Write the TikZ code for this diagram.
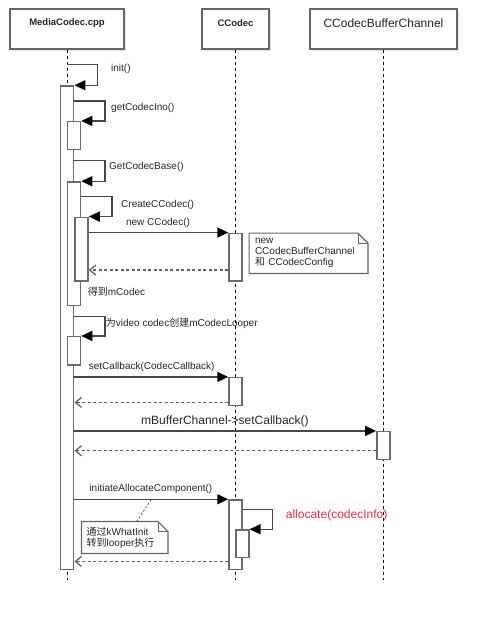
\documentclass[tikz,border=0pt]{standalone}
\usepackage{fontspec}
\setmainfont{Liberation Sans}
\newfontfamily\cjk{Noto Sans CJK SC}
\usetikzlibrary{arrows.meta,shadows,calc}
\newcommand\smtxt{\fontsize{10}{11}\selectfont}
\newcommand\bigtxt{\fontsize{12}{14}\selectfont}
\tikzset{
  hdr/.style={draw=black!60, line width=1.4pt, fill=white, rectangle, inner sep=0pt,
    drop shadow={shadow xshift=2pt,shadow yshift=-2pt,fill=black!10,opacity=1}},
  hdrtxt/.style={inner sep=0pt, text=black!85},
  bar/.style={draw=black!58, line width=1.5pt, fill=white, rectangle, minimum width=13pt, inner sep=0pt},
  life/.style={draw=black, line width=0.8pt, dash pattern=on 3pt off 3pt},
  call/.style={draw=black!72, line width=1.5pt, -{Triangle[length=11pt,width=10pt,fill=black,color=black]}},
  ret/.style={draw=black!62, line width=1.3pt, dash pattern=on 3pt off 2.5pt, -{Straight Barb[length=6pt,width=10pt]}},
  lbl/.style={text=black!85, font=\smtxt, inner sep=0pt},
  notetxt/.style={text=black!85, font=\smtxt, inner ysep=0pt, align=left},
  noteline/.style={draw=black!60, line width=1.2pt},
  notelink/.style={draw=black!70, line width=0.8pt, dash pattern=on 2pt off 2pt}
}
\begin{document}
\begin{tikzpicture}[x=1pt,y=-1pt]
\useasboundingbox (0,0) rectangle (497,624);
% headers
\node[hdr, minimum width=114pt, minimum height=40pt] (mc) at (67,29) {};
\node[hdr, minimum width=67pt, minimum height=40pt] (cc) at (235.5,29) {};
\node[hdr, minimum width=147pt, minimum height=40pt] (bc) at (383.5,29) {};
\node[hdrtxt, font=\fontsize{9.5}{11}\selectfont\bfseries] (mct) at ([yshift=-14.5pt]mc.north) {MediaCodec.cpp};
\node[hdrtxt, font=\fontsize{9.5}{11}\selectfont\bfseries] (cct) at ([yshift=-14.5pt]cc.north) {CCodec};
\node[hdrtxt, font=\bigtxt] (bct) at ([yshift=-14.5pt]bc.north) {CCodecBufferChannel};
% lifelines
\coordinate (lend) at (0,580);
\draw[life] (mc.south) -- (mc.south |- lend);
\draw[life] (cc.south) -- (cc.south |- lend);
\draw[life] (bc.south) -- (bc.south |- lend);
% activation bars
\node[bar, minimum height=483.3pt] (main) at (67.2,327.65) {};
\node[bar, minimum height=27.6pt] (b2) at (74,135.5) {};
\node[bar, minimum height=123.7pt] (b3) at (74,243.85) {};
\node[bar, minimum height=63.7pt] (b4) at (81.5,249.15) {};
\node[bar, minimum height=28.3pt] (b5) at (74,350.85) {};
\node[bar, minimum height=47.7pt] (cc1) at (235.5,257.15) {};
\node[bar, minimum height=28pt] (cc2) at (235.5,391.7) {};
\node[bar, minimum height=69.3pt] (cc3) at (235.5,534.65) {};
\node[bar, minimum height=27.3pt] (cc4) at (242.3,543.65) {};
\node[bar, minimum height=27.6pt] (bc1) at (383.3,445.5) {};
% self calls
\draw[call] (mc.south |- main.north) ++(0,-21) -- ++(30.5,0) |- (main.north east);
\draw[call] (main.east |- b2.north) ++(0,-20) -- ++(30.3,0) |- (b2.north east);
\draw[call] (main.east |- b3.north) ++(0,-21) -- ++(30.3,0) |- (b3.north east);
\draw[call] (b3.east |- b4.north) ++(0,-20) -- ++(30.5,0) |- (b4.north east);
\draw[call] (main.east |- b5.north) ++(0,-19.4) -- ++(30.3,0) |- (b5.north east);
\draw[call] (cc3.east |- cc4.north) ++(0,-20) -- ++(29.7,0) |- (cc4.north east);
% calls
\draw[call] (b4.east |- cc1.north) -- (cc1.north west);
\draw[call] (main.east |- cc2.north) -- (cc2.north west);
\draw[call] (main.east |- bc1.north) -- (bc1.north west);
\draw[call] (main.east |- cc3.north) -- (cc3.north west);
% returns
\coordinate (r1) at ([yshift=11.7pt]cc1.south west);
\coordinate (r2) at ([yshift=4pt]cc2.south west);
\coordinate (r3) at ([yshift=9.3pt]bc1.south west);
\coordinate (r4) at ([yshift=8.6pt]cc3.south west);
\draw[ret] (r1) -- (r1 -| b4.east);
\draw[ret] (r2) -- (r2 -| main.east);
\draw[ret] (r3) -- (r3 -| main.east);
\draw[ret] (r4) -- (r4 -| main.east);
% labels
\node[lbl, anchor=west] (l1) at (111,69) {init()};
\node[lbl, anchor=west] (l2) at (111,108) {getCodecIno()};
\node[lbl, anchor=west] (l3) at (109,167) {GetCodecBase()};
\node[lbl, anchor=west] (l4) at (121,205) {CreateCCodec()};
\node[lbl] (l5) at (158,222.7) {new CCodec()};
\node[lbl, anchor=west] (l6) at (87.7,291.7) {{\cjk 得到}mCodec};
\node[lbl, anchor=west] (l7) at (105.7,323.3) {{\cjk 为}video codec{\cjk 创建}mCodecLooper};
\node[lbl, anchor=west] (l8) at (88.7,366.7) {setCallback(CodecCallback)};
\node[lbl, font=\bigtxt] (l9) at (225,421) {mBufferChannel->setCallback()};
\node[lbl, anchor=west] (l10) at (89.3,489) {initiateAllocateComponent()};
\node[lbl, anchor=west, font=\fontsize{12}{14}\selectfont, text={rgb,255:red,222;green,48;blue,60}] (l11) at (285.7,515.7) {allocate(codecInfo)};
% note 1
\node[notetxt, inner xsep=5.7pt, text width=107pt, minimum height=40pt] (n1) at (308.5,253.3) {new\\CCodecBufferChannel\\{\cjk 和} CCodecConfig};
\draw[noteline] (n1.north west) -- ([xshift=-10pt]n1.north east) -- ([yshift=-10pt]n1.north east) -- (n1.south east) -- (n1.south west) -- cycle;
\draw[noteline, line width=0.8pt] ([xshift=-10pt]n1.north east) -- ([xshift=-10pt,yshift=-10pt]n1.north east) -- ([yshift=-10pt]n1.north east);
% note 2
\node[notetxt, inner xsep=5pt, text width=76pt, minimum height=31.6pt] (n2) at (124.7,537.5) {{\cjk 通过}kWhatInit\\{\cjk 转到}looper{\cjk 执行}};
\draw[noteline] (n2.north west) -- ([xshift=-10pt]n2.north east) -- ([yshift=-10pt]n2.north east) -- (n2.south east) -- (n2.south west) -- cycle;
\draw[noteline, line width=0.8pt] ([xshift=-10pt]n2.north east) -- ([xshift=-10pt,yshift=-10pt]n2.north east) -- ([yshift=-10pt]n2.north east);
\draw[notelink] ([xshift=12pt]n2.north) -- ($(main.east |- cc3.north)!0.5!(cc3.north west)$);
\end{tikzpicture}
\end{document}
